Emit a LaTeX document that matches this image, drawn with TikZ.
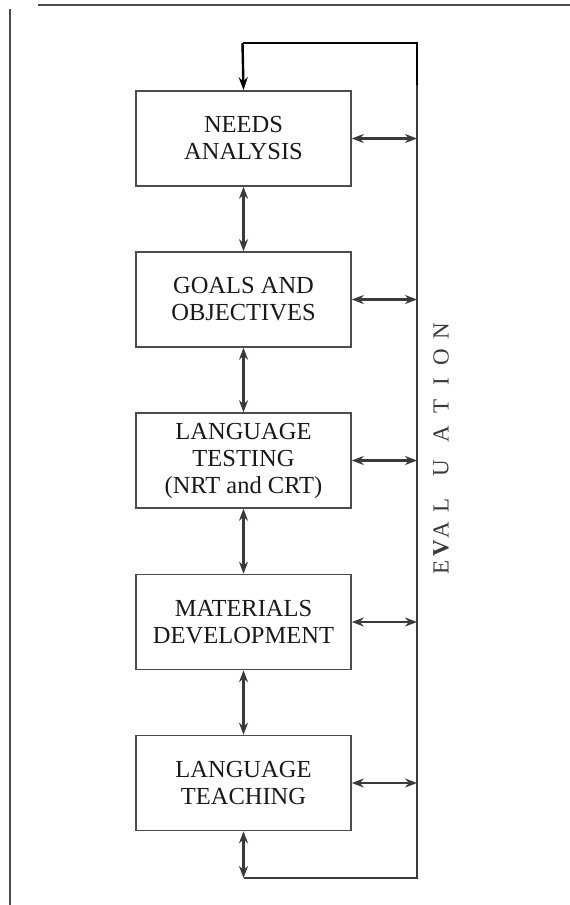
\documentclass[tikz,border=0pt]{standalone}
\usepackage{fontspec}
\setmainfont{Liberation Serif}
\usetikzlibrary{arrows.meta}

\definecolor{ink}{HTML}{3A3A3A}
\definecolor{boxline}{HTML}{4C4C4C}

\tikzset{
  stagebox/.style={draw=boxline, line width=1.6pt, minimum width=215pt,
    minimum height=95pt, align=center, inner sep=0pt,
    font=\fontsize{24.5}{27}\selectfont, text=black!90},
  twoway/.style={ink, line width=2.2pt,
    {Stealth[length=12pt,width=9pt]}-{Stealth[length=12pt,width=9pt]}},
  oneway/.style={black, line width=2.4pt, -{Stealth[length=13pt,width=9pt]}},
  evalline/.style={ink, line width=2.4pt},
  loopline/.style={black, line width=2.8pt},
  rule/.style={boxline, line width=2pt},
  evletter/.style={rotate=90, inner sep=0pt, text=ink,
    font=\fontsize{23}{23}\selectfont}
}

\begin{document}
\begin{tikzpicture}[x=1pt, y=-1pt]
  \useasboundingbox (0,0) rectangle (570,905);

  % page rules
  \coordinate (ruleL) at (38,5);
  \coordinate (ruleR) at (570,5);
  \coordinate (sideT) at (10,9);
  \coordinate (sideB) at (10,905);
  \draw[rule] (ruleL) -- (ruleR);
  \draw[rule] (sideT) -- (sideB);

  % the five stages
  \node[stagebox] (b1) at (243.5,138.5) {NEEDS\\ANALYSIS};
  \node[stagebox] (b2) at (243.5,299.5) {GOALS AND\\OBJECTIVES};
  \node[stagebox] (b3) at (243.5,460.5) {LANGUAGE\\TESTING\\(NRT and CRT)};
  \node[stagebox] (b4) at (243.5,622) {MATERIALS\\DEVELOPMENT};
  \node[stagebox] (b5) at (243.5,783) {LANGUAGE\\TEACHING};

  % links between neighbouring stages
  \draw[twoway] (b1.south) -- (b2.north);
  \draw[twoway] (b2.south) -- (b3.north);
  \draw[twoway] (b3.south) -- (b4.north);
  \draw[twoway] (b4.south) -- (b5.north);

  % evaluation loop
  \coordinate (topL) at (242.5,43);
  \coordinate (topR) at (417,43);
  \coordinate (joint) at (417,85);
  \coordinate (botR) at (417,878);
  \coordinate (botL) at (243.5,878);

  \draw[loopline] (joint) -- (topR) -- (topL);
  \draw[oneway] (topL) -- (b1.north);
  \draw[evalline] (joint) -- (botR) -- (botL);
  \draw[twoway] (b5.south) -- (botL);

  % each stage exchanges with the evaluation line
  \foreach \b in {b1,b2,b3,b4,b5}
    \draw[twoway] (\b.east) -- (\b.east -| joint);

  % vertical EVALUATION label
  \foreach \ch/\yy/\nm in {E/567/e1, {\textbf{V}}/548/e2, A/530/e3, L/505/e4,
      U/468/e5, A/434/e6, T/406/e7, I/382/e8, O/357/e9, N/331/e10}
    \node[evletter] (\nm) at (441,\yy) {\ch};
\end{tikzpicture}
\end{document}
